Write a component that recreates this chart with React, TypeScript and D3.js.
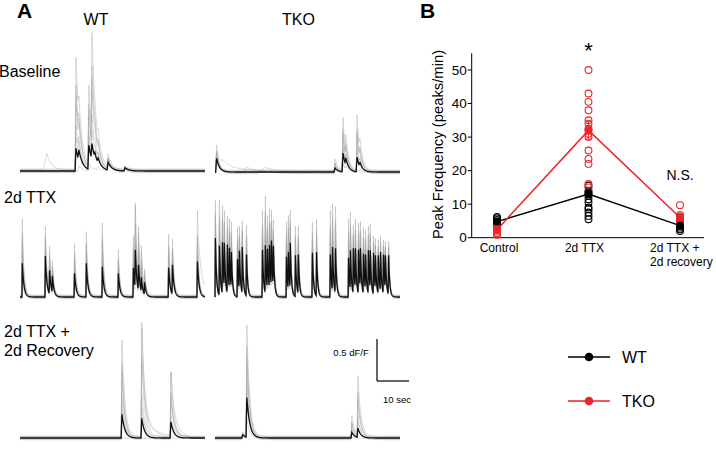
import React from "react";
import * as d3 from "d3";

// ---------- Panel A data (calcium traces) ----------
// events: [time (s), mean-trace peak height (dF/F), brightest single-cell peak height (dF/F)]
type Ev = [number, number, number];
// slow gray-only components: [time (s), amp (dF/F), rise (s), decay (s), gray trace index]
type Slow = [number, number, number, number, number];

const traceDuration = 57.8; // seconds shown per trace

const wtBaselineEvents: Ev[] = [
  [17.2, 0.28, 1.39], [18.1, 0.26, 0.9], [21.2, 0.32, 1.05], [22.2, 0.34, 1.7],
  [23.1, 0.23, 0.87], [24.1, 0.16, 0.5], [27.2, 0.11, 0.2], [32.5, 0.04, 0.04],
];
const wtBaselineSlow: Slow[] = [[7.2, 0.2, 1.2, 1.3, 0]];

const tkoBaselineEvents: Ev[] = [
  [0.2, 0.17, 0.32], [37.2, 0.05, 0.15], [39.7, 0.23, 0.65], [40.6, 0.17, 0.45],
  [44.1, 0.18, 0.68], [45.0, 0.12, 0.4],
];
const tkoBaselineSlow: Slow[] = [
  [1.0, 0.1, 1.5, 4, 0], [8.5, 0.07, 1.5, 4, 1], [14.5, 0.05, 1, 3, 2], [13.5, 0.04, 1, 3, 3],
];

const wtTtxEvents: Ev[] = [
  [0.6, 0.41, 0.94], [7.8, 0.5, 0.85], [9.1, 0.34, 0.63], [10.0, 0.26, 0.43],
  [16.9, 0.3, 0.66], [20.6, 0.41, 0.78], [25.6, 0.37, 0.89], [30.6, 0.29, 0.56],
  [35.3, 0.37, 0.76], [35.9, 0.6, 1.18], [36.9, 0.41, 0.88], [37.8, 0.24, 0.61],
  [38.8, 0.18, 0.33], [46.3, 0.37, 0.78], [47.5, 0.41, 0.72], [55.3, 0.45, 0.94],
];
const wtTtxSlow: Slow[] = [[55.0, 0.3, 1.0, 2.0, 0], [35.5, 0.15, 0.5, 2.0, 1]];

const tkoTtxEvents: Ev[] = [
  [0.0, 0.72, 1.16], [1.25, 0.67, 1.27], [2.2, 0.67, 1.1], [2.8, 0.66, 1.04],
  [3.75, 0.66, 1.0], [4.4, 0.6, 0.94], [5.0, 0.55, 0.9],
  [6.9, 0.49, 0.88], [7.5, 0.6, 0.9], [8.4, 0.61, 0.91], [9.7, 0.55, 0.91],
  [14.7, 0.61, 1.1], [15.6, 0.63, 1.22], [16.25, 0.63, 1.04], [16.9, 0.67, 1.12],
  [17.5, 0.73, 1.1], [18.1, 0.66, 0.98],
  [22.2, 0.49, 0.9], [22.8, 0.55, 0.98], [23.4, 0.66, 1.04], [25.0, 0.51, 0.85], [25.9, 0.55, 0.9],
  [30.3, 0.57, 0.95], [31.6, 0.55, 0.93],
  [35.9, 0.55, 1.1], [36.6, 0.61, 1.12], [37.5, 0.63, 1.15],
  [41.6, 0.48, 0.94], [42.2, 0.57, 1.02], [43.1, 0.63, 0.91], [43.75, 0.61, 0.96],
  [44.7, 0.61, 0.94], [45.3, 0.63, 0.96], [46.25, 0.57, 0.9], [46.9, 0.55, 0.85],
  [47.8, 0.57, 0.85], [48.4, 0.57, 0.88], [49.4, 0.54, 0.73], [50.0, 0.51, 0.7],
  [50.9, 0.54, 0.72], [51.6, 0.55, 0.73], [52.5, 0.55, 0.72], [53.1, 0.54, 0.7], [54.1, 0.54, 0.7],
];
const tkoTtxSlow: Slow[] = [];

const wtRecoveryEvents: Ev[] = [
  [31.6, 0.29, 1.22], [37.8, 0.24, 1.44], [46.9, 0.2, 0.8],
];
const wtRecoverySlow: Slow[] = [
  [37.8, 0.3, 0.3, 3.5, 1], [37.8, 0.2, 0.3, 4.5, 2], [46.9, 0.2, 0.3, 3.0, 1], [46.9, 0.12, 0.3, 4.0, 3],
];

const tkoRecoveryEvents: Ev[] = [
  [8.4, 0.04, 0.06], [9.7, 0.5, 1.38], [42.5, 0.07, 0.26], [44.4, 0.12, 0.77],
];
const tkoRecoverySlow: Slow[] = [];

// spread of individual (gray) cells between mean and brightest cell
const grayFractions = [1, 0.72, 0.48, 0.28, 0.1, -0.3, 0.6];
const grayBaselineOffsets = [0.016, -0.012, 0.008, -0.02, 0.022, -0.005, 0.0];

// ---------- Panel B data ----------
const categories = ["Control", "2d TTX", "2d TTX +"];
const wtPoints = [
  [6.2, 5.8, 5.3, 4.8, 4.3, 3.8],
  [15.5, 14, 13.5, 12.5, 11.5, 10.5, 9, 8.5, 7.5, 6.5, 5.5],
  [5.2, 4.6, 4.0, 3.5, 3.0, 2.5, 2.0],
];
const tkoPoints = [
  [3.2, 2.8, 2.3, 1.8, 1.3, 0.9],
  [50, 43, 40.5, 38, 35, 34, 32.5, 31, 30, 26, 23.5, 22, 16, 15],
  [9.7, 6.8, 6.3, 5.8, 5.3, 4.8, 4.3],
];
const wtMeans = [4.8, 13.0, 3.6];
const tkoMeans = [2.4, 32.0, 6.0];
const wtSem = [0.4, 1.0, 0.4];
const tkoSem = [0.4, 2.6, 0.5];
const yTicks = [0, 10, 20, 30, 40, 50];

const FONT = "'Liberation Sans', Arial, Helvetica, sans-serif";
const RED = "#e8262b";

function kern(dt: number, rise: number, tau: number) {
  if (dt < 0) return 0;
  if (dt < rise) return dt / rise;
  return Math.exp(-(dt - rise) / tau);
}

// convert observed peak heights into increments so the drawn peaks reach the read heights
function increments(times: number[], peaks: number[], rise: number, tau: number) {
  const inc: number[] = [];
  times.forEach((t, k) => {
    let res = 0;
    for (let j = 0; j < k; j++) res += inc[j] * kern(t + rise - times[j], rise, tau);
    inc.push(Math.max(0, peaks[k] - res));
  });
  return inc;
}

function Trace(props: {
  x0: number; baseY: number; events: Ev[]; slow: Slow[]; tau: number; rise: number;
}) {
  const { x0, baseY, events, slow, tau, rise } = props;
  const x = d3.scaleLinear().domain([0, traceDuration]).range([x0, x0 + 185]);
  const y = d3.scaleLinear().domain([0, 1]).range([baseY, baseY - 82]);
  const ts = d3.range(0, traceDuration + 1e-9, 0.04);
  const line = d3.line<[number, number]>().x((d) => x(d[0])).y((d) => y(d[1]));
  const times = events.map((e) => e[0]);

  const series = (peaks: number[], offset: number, idx: number) => {
    const inc = increments(times, peaks, rise, tau);
    return ts.map((t) => {
      let v = offset;
      times.forEach((te, k) => { v += inc[k] * kern(t - te, rise, tau); });
      for (const s of slow) if (s[4] === idx) v += s[1] * kern(t - s[0], s[2], s[3]);
      return [t, v] as [number, number];
    });
  };

  const blackVals = series(events.map((e) => e[1]), 0, -1);
  const grays = grayFractions.map((f, i) =>
    series(events.map((e) => Math.max(0, e[1] + (e[2] - e[1]) * f)), grayBaselineOffsets[i], i)
  );
  return (
    <g>
      {grays.map((g, i) => (
        <path key={i} d={line(g) || ""} fill="none" stroke="#a9a9a9" strokeOpacity={0.5} strokeWidth={0.9} />
      ))}
      <path d={line(blackVals) || ""} fill="none" stroke="#111" strokeWidth={1.3} />
    </g>
  );
}

function PanelB() {
  const xB = d3.scalePoint<string>().domain(categories).range([497, 680]);
  const yB = d3.scaleLinear().domain([0, 50]).range([237.7, 70]);
  const axX = 471.7;
  const lineGen = d3.line<[number, number]>().x((d) => d[0]).y((d) => d[1]);
  const wtLine = lineGen(categories.map((c, i) => [xB(c)!, yB(wtMeans[i])]));
  const tkoLine = lineGen(categories.map((c, i) => [xB(c)!, yB(tkoMeans[i])]));
  return (
    <g fontFamily={FONT}>
      <text x={420} y={18} fontSize={21} fontWeight="bold">B</text>
      <line x1={axX} x2={axX} y1={yB(55)} y2={yB(0)} stroke="#000" strokeWidth={1} />
      <line x1={axX} x2={704} y1={yB(0)} y2={yB(0)} stroke="#000" strokeWidth={1} />
      {yTicks.map((t) => (
        <g key={t}>
          <line x1={axX - 4} x2={axX} y1={yB(t)} y2={yB(t)} stroke="#000" strokeWidth={1} />
          <text x={axX - 5} y={yB(t)} dy="0.35em" textAnchor="end" fontSize={13.5}>{t}</text>
        </g>
      ))}
      <text transform={`translate(443,144.5) rotate(-90)`} textAnchor="middle" fontSize={14.8}>
        Peak Frequency (peaks/min)
      </text>
      <text x={xB(categories[0])! + 2} y={252} textAnchor="middle" fontSize={12}>{categories[0]}</text>
      <text x={xB(categories[1])! - 4} y={252} textAnchor="middle" fontSize={12}>{categories[1]}</text>
      <text x={650} y={252} fontSize={12}>{categories[2]}</text>
      <text x={650} y={266} fontSize={12}>2d recovery</text>
      <path d={wtLine || ""} fill="none" stroke="#000" strokeWidth={1.5} />
      <path d={tkoLine || ""} fill="none" stroke={RED} strokeWidth={1.5} />
      {wtPoints.map((arr, i) =>
        arr.map((v, j) => (
          <circle key={`w${i}-${j}`} cx={xB(categories[i])!} cy={yB(v)} r={3.4} fill="none" stroke="#000" strokeWidth={1.1} />
        ))
      )}
      {tkoPoints.map((arr, i) =>
        arr.map((v, j) => (
          <circle key={`t${i}-${j}`} cx={xB(categories[i])!} cy={yB(v)} r={3.4} fill="none" stroke={RED} strokeWidth={1.1} />
        ))
      )}
      {categories.map((c, i) => (
        <g key={`m${i}`}>
          <line x1={xB(c)!} x2={xB(c)!} y1={yB(wtMeans[i] - wtSem[i])} y2={yB(wtMeans[i] + wtSem[i])} stroke="#000" />
          <line x1={xB(c)! - 3} x2={xB(c)! + 3} y1={yB(wtMeans[i] + wtSem[i])} y2={yB(wtMeans[i] + wtSem[i])} stroke="#000" />
          <line x1={xB(c)! - 3} x2={xB(c)! + 3} y1={yB(wtMeans[i] - wtSem[i])} y2={yB(wtMeans[i] - wtSem[i])} stroke="#000" />
          <circle cx={xB(c)!} cy={yB(wtMeans[i])} r={4} fill="#000" />
          <line x1={xB(c)!} x2={xB(c)!} y1={yB(tkoMeans[i] - tkoSem[i])} y2={yB(tkoMeans[i] + tkoSem[i])} stroke={RED} />
          <line x1={xB(c)! - 3} x2={xB(c)! + 3} y1={yB(tkoMeans[i] + tkoSem[i])} y2={yB(tkoMeans[i] + tkoSem[i])} stroke={RED} />
          <line x1={xB(c)! - 3} x2={xB(c)! + 3} y1={yB(tkoMeans[i] - tkoSem[i])} y2={yB(tkoMeans[i] - tkoSem[i])} stroke={RED} />
          <circle cx={xB(c)!} cy={yB(tkoMeans[i])} r={4} fill={RED} />
        </g>
      ))}
      <text x={xB(categories[1])!} y={58} textAnchor="middle" fontSize={22}>*</text>
      <text x={680} y={180} textAnchor="middle" fontSize={14}>N.S.</text>
      <line x1={568} x2={610} y1={357} y2={357} stroke="#000" strokeWidth={1.5} />
      <circle cx={589} cy={357} r={4.3} fill="#000" />
      <text x={622} y={357} dy="0.35em" fontSize={16}>WT</text>
      <line x1={568} x2={610} y1={401} y2={401} stroke={RED} strokeWidth={1.5} />
      <circle cx={589} cy={401} r={4.3} fill={RED} />
      <text x={622} y={401} dy="0.35em" fontSize={16}>TKO</text>
    </g>
  );
}

export default function App() {
  return (
    <div style={{ position: "fixed", left: 0, top: 0 }}>
      <svg width={716} height={449} style={{ display: "block", background: "#fff" }}>
        <g fontFamily={FONT}>
          <text x={17} y={18} fontSize={21} fontWeight="bold">A</text>
          <text x={96} y={25} textAnchor="middle" fontSize={16}>WT</text>
          <text x={298.5} y={25} textAnchor="middle" fontSize={16}>TKO</text>
          <text x={-1} y={77} fontSize={16}>Baseline</text>
          <text x={4} y={203} fontSize={16}>2d TTX</text>
          <text x={4} y={337} fontSize={16}>2d TTX +</text>
          <text x={4} y={356} fontSize={16}>2d Recovery</text>
        </g>
        <Trace x0={20} baseY={171} events={wtBaselineEvents} slow={wtBaselineSlow} tau={1.2} rise={0.3} />
        <Trace x0={215} baseY={172} events={tkoBaselineEvents} slow={tkoBaselineSlow} tau={0.9} rise={0.3} />
        <Trace x0={20} baseY={297} events={wtTtxEvents} slow={wtTtxSlow} tau={0.5} rise={0.12} />
        <Trace x0={215} baseY={297} events={tkoTtxEvents} slow={tkoTtxSlow} tau={0.35} rise={0.12} />
        <Trace x0={20} baseY={438} events={wtRecoveryEvents} slow={wtRecoverySlow} tau={0.9} rise={0.25} />
        <Trace x0={215} baseY={438} events={tkoRecoveryEvents} slow={tkoRecoverySlow} tau={0.9} rise={0.25} />
        <g fontFamily={FONT}>
          <line x1={377} x2={377} y1={339} y2={381} stroke="#000" strokeWidth={1.2} />
          <line x1={377} x2={409} y1={381} y2={381} stroke="#000" strokeWidth={1.2} />
          <text x={351} y={356} textAnchor="middle" fontSize={9.5}>0.5 dF/F</text>
          <text x={397} y={403} textAnchor="middle" fontSize={9.5}>10 sec</text>
        </g>
        <PanelB />
      </svg>
    </div>
  );
}
